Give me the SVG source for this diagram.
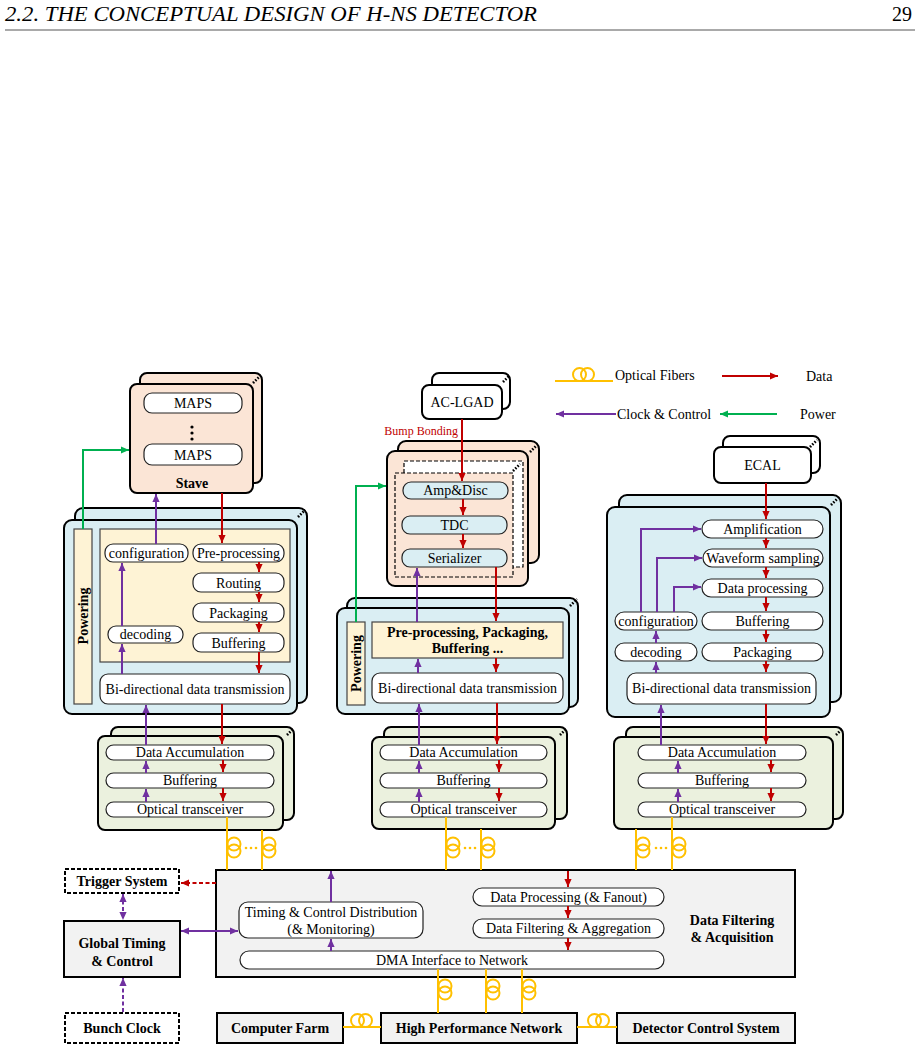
<svg xmlns="http://www.w3.org/2000/svg" width="920" height="1050" viewBox="0 0 920 1050">
<defs>
<style>
text { font-family: "Liberation Serif","Times New Roman",serif; font-size:14px; fill:#000; }
.c { text-anchor: middle; }
.b { font-weight: bold; }
.peach { fill:#FBE5D6; stroke:#000; stroke-width:2; }
.blue { fill:#DAEEF3; stroke:#000; stroke-width:2; }
.green { fill:#EBF1DE; stroke:#000; stroke-width:2; }
.wht { fill:#fff; stroke:#000; stroke-width:2; }
.gray { fill:#F2F2F2; stroke:#000; stroke-width:2; }
.pill { fill:#fff; stroke:#222; stroke-width:1.2; }
.pillb { fill:#DAEEF3; stroke:#222; stroke-width:1.2; }
.cream { fill:#FEF3D5; stroke:#444; stroke-width:1.2; }
.dash { fill:#fff; stroke:#000; stroke-width:2; stroke-dasharray:4 2; }
.dashin { stroke:#000; stroke-width:1.2; stroke-dasharray:4 2; }
.dots { stroke:#000; stroke-width:2.6; stroke-dasharray:1.6 1.6; fill:none; }
.r { stroke:#C00000; stroke-width:2; fill:none; marker-end:url(#ar); }
.rd { stroke:#C00000; stroke-width:2; fill:none; stroke-dasharray:4 2.5; marker-end:url(#ar); }
.p { stroke:#7030A0; stroke-width:2; fill:none; marker-end:url(#ap); }
.p2 { stroke:#7030A0; stroke-width:2; fill:none; marker-end:url(#ap); marker-start:url(#ap); }
.pd { stroke:#7030A0; stroke-width:2; fill:none; stroke-dasharray:4 2.5; marker-end:url(#ap); }
.pd2 { stroke:#7030A0; stroke-width:2; fill:none; stroke-dasharray:4 2.5; marker-end:url(#ap); marker-start:url(#ap); }
.g { stroke:#00B050; stroke-width:2; fill:none; marker-end:url(#ag); }
.y { stroke:#FFC000; stroke-width:2; fill:none; }
.yd { fill:#FFC000; }
.hdr { font-size:22px; font-style:italic; }
.pg { font-size:20px; text-anchor:end; }
.bump { font-size:12px; text-anchor:end; fill:#C00000; }
</style>
<marker id="ar" viewBox="0 0 10 10" refX="10" refY="5" markerWidth="8" markerHeight="8" markerUnits="userSpaceOnUse" orient="auto-start-reverse"><path d="M0,0.5 L10,5 L0,9.5 z" fill="#C00000"/></marker>
<marker id="ap" viewBox="0 0 10 10" refX="10" refY="5" markerWidth="8" markerHeight="8" markerUnits="userSpaceOnUse" orient="auto-start-reverse"><path d="M0,0.5 L10,5 L0,9.5 z" fill="#7030A0"/></marker>
<marker id="ag" viewBox="0 0 10 10" refX="10" refY="5" markerWidth="8" markerHeight="8" markerUnits="userSpaceOnUse" orient="auto-start-reverse"><path d="M0,0.5 L10,5 L0,9.5 z" fill="#00B050"/></marker>
<g id="coilV" class="y"><circle cx="7" cy="0" r="6.5"/><circle cx="7" cy="7" r="6.5"/></g>
<g id="coilH" class="y"><circle cx="0" cy="-6.5" r="6.5"/><circle cx="8" cy="-6.5" r="6.5"/></g>
</defs>

<g id="header">
<text class="hdr" x="5" y="21" textLength="532" lengthAdjust="spacingAndGlyphs">2.2.  THE CONCEPTUAL DESIGN OF H-NS DETECTOR</text>
<text class="pg" x="912" y="21">29</text>
<line x1="5" y1="30" x2="915" y2="30" stroke="#555" stroke-width="1"/>
</g>

<g id="legend">
<line class="y" x1="555" y1="381" x2="613" y2="381"/>
<use href="#coilH" x="579.5" y="381"/>
<text x="615" y="380">Optical Fibers</text>
<line class="r" x1="722" y1="376" x2="778" y2="376"/>
<text x="806" y="381">Data</text>
<line class="p" x1="616" y1="414" x2="556" y2="414"/>
<text x="617" y="419">Clock &amp; Control</text>
<line class="g" x1="777" y1="414" x2="720" y2="414"/>
<text x="800" y="419">Power</text>
</g>

<g id="stave">
<rect class="peach" x="140" y="373" width="122" height="110" rx="7"/>
<rect class="peach" x="130" y="384" width="123" height="109" rx="7"/>
<line class="dots" x1="253" y1="383" x2="260" y2="376"/>
<rect class="pill" x="144" y="393" width="98" height="20" rx="8"/>
<text class="c" x="193" y="408">MAPS</text>
<circle cx="192" cy="427" r="1.6"/><circle cx="192" cy="433" r="1.6"/><circle cx="192" cy="439" r="1.6"/>
<rect class="pill" x="144" y="444" width="98" height="21" rx="8"/>
<text class="c" x="193" y="460">MAPS</text>
<text class="c b" x="192" y="488">Stave</text>
</g>

<g id="left-board">
<rect class="blue" x="75" y="508" width="232" height="195" rx="8"/>
<rect class="blue" x="64" y="520" width="233" height="194" rx="8"/>
<line class="dots" x1="298" y1="517" x2="305" y2="510"/>
<rect class="cream" x="74" y="529" width="18" height="175"/>
<text class="c b" transform="translate(88,616) rotate(-90)">Powering</text>
<rect class="cream" x="100" y="529" width="190" height="133"/>
<rect class="pill" x="105" y="544" width="83" height="18" rx="8"/>
<text class="c" x="146.5" y="558">configuration</text>
<rect class="pill" x="193" y="544" width="91" height="18" rx="8"/>
<text class="c" x="238.5" y="558">Pre-processing</text>
<rect class="pill" x="193" y="573" width="91" height="19" rx="8"/>
<text class="c" x="238.5" y="588">Routing</text>
<rect class="pill" x="193" y="603" width="91" height="19" rx="8"/>
<text class="c" x="238.5" y="618">Packaging</text>
<rect class="pill" x="193" y="633" width="91" height="19" rx="8"/>
<text class="c" x="238.5" y="648">Buffering</text>
<rect class="pill" x="108" y="626" width="75" height="17" rx="8"/>
<text class="c" x="145.5" y="639">decoding</text>
<rect class="pill" x="100" y="674" width="190" height="30" rx="8"/>
<text class="c" x="195" y="694">Bi-directional data transmission</text>
</g>

<g id="left-daq">
<rect class="green" x="111" y="727" width="183" height="93" rx="7"/>
<rect class="green" x="98" y="736" width="185" height="94" rx="7"/>
<line class="dots" x1="287" y1="735" x2="293" y2="729"/>
<rect class="pill" x="106" y="745" width="168" height="15" rx="7.5"/>
<text class="c" x="190" y="757">Data Accumulation</text>
<rect class="pill" x="106" y="773" width="168" height="15" rx="7.5"/>
<text class="c" x="190" y="785">Buffering</text>
<rect class="pill" x="106" y="802" width="168" height="15" rx="7.5"/>
<text class="c" x="190" y="814">Optical transceiver</text>
</g>

<g id="ac-lgad">
<rect class="wht" x="432" y="373" width="78" height="36" rx="7"/>
<rect class="wht" x="422" y="385" width="80" height="34" rx="7"/>
<line class="dots" x1="503" y1="382" x2="509" y2="376"/>
<text class="c" x="462" y="407">AC-LGAD</text>
<text class="bump" x="458" y="435">Bump Bonding</text>
</g>

<g id="chip">
<rect class="peach" x="398" y="441" width="141" height="122" rx="8"/>
<rect class="peach" x="387" y="451" width="141" height="135" rx="8"/>
<line class="dots" x1="530" y1="452" x2="537" y2="445"/>
<rect class="dashin" x="404" y="461" width="119" height="106" fill="#fff"/>
<rect class="dashin" x="395" y="473" width="118" height="104" fill="#FBE5D6"/>
<line class="dots" x1="513" y1="471" x2="520" y2="464"/>
<rect class="pillb" x="403" y="482" width="105" height="17" rx="8"/>
<text class="c" x="455.5" y="495">Amp&amp;Disc</text>
<rect class="pillb" x="402" y="516" width="105" height="18" rx="8"/>
<text class="c" x="454.5" y="530">TDC</text>
<rect class="pillb" x="402" y="549" width="105" height="18" rx="8"/>
<text class="c" x="454.5" y="563">Serializer</text>
</g>

<g id="mid-board">
<rect class="blue" x="347" y="598" width="231" height="109" rx="8"/>
<rect class="blue" x="337" y="608" width="232" height="106" rx="8"/>
<line class="dots" x1="570" y1="606" x2="577" y2="599"/>
<rect class="cream" x="347" y="622" width="18" height="83"/>
<text class="c b" transform="translate(361,663.5) rotate(-90)">Powering</text>
<rect class="cream" x="372" y="622" width="191" height="36"/>
<text class="c b" x="467.5" y="637">Pre-processing, Packaging,</text>
<text class="c b" x="467.5" y="653">Buffering ...</text>
<rect class="pill" x="372" y="673" width="191" height="30" rx="8"/>
<text class="c" x="467.5" y="693">Bi-directional data transmission</text>
</g>

<g id="mid-daq">
<rect class="green" x="384" y="727" width="183" height="92" rx="7"/>
<rect class="green" x="372" y="737" width="183" height="92" rx="7"/>
<line class="dots" x1="560" y1="735" x2="566" y2="729"/>
<rect class="pill" x="380" y="745" width="167" height="15" rx="7.5"/>
<text class="c" x="463.5" y="757">Data Accumulation</text>
<rect class="pill" x="380" y="773" width="167" height="15" rx="7.5"/>
<text class="c" x="463.5" y="785">Buffering</text>
<rect class="pill" x="380" y="802" width="167" height="15" rx="7.5"/>
<text class="c" x="463.5" y="814">Optical transceiver</text>
</g>

<g id="ecal">
<rect class="wht" x="723" y="436" width="97" height="37" rx="7"/>
<rect class="wht" x="714" y="447" width="97" height="36" rx="7"/>
<line class="dots" x1="810" y1="447" x2="817" y2="440"/>
<text class="c" x="762.5" y="470">ECAL</text>
</g>

<g id="right-board">
<rect class="blue" x="619" y="495" width="222" height="207" rx="8"/>
<rect class="blue" x="607" y="507" width="223" height="210" rx="8"/>
<line class="dots" x1="831" y1="505" x2="838" y2="498"/>
<rect class="pill" x="702" y="520" width="121" height="18" rx="9"/>
<text class="c" x="762.5" y="534">Amplification</text>
<rect class="pill" x="703" y="549" width="120" height="18" rx="9"/>
<text class="c" x="763" y="563">Waveform sampling</text>
<rect class="pill" x="702" y="579" width="121" height="18" rx="9"/>
<text class="c" x="762.5" y="593">Data processing</text>
<rect class="pill" x="702" y="612" width="121" height="18" rx="9"/>
<text class="c" x="762.5" y="626">Buffering</text>
<rect class="pill" x="702" y="643" width="121" height="18" rx="9"/>
<text class="c" x="762.5" y="657">Packaging</text>
<rect class="pill" x="615" y="612" width="82" height="18" rx="9"/>
<text class="c" x="656" y="626">configuration</text>
<rect class="pill" x="615" y="643" width="82" height="18" rx="9"/>
<text class="c" x="656" y="657">decoding</text>
<rect class="pill" x="627" y="673" width="189" height="31" rx="9"/>
<text class="c" x="721.5" y="693">Bi-directional data transmission</text>
</g>

<g id="right-daq">
<rect class="green" x="626" y="727" width="217" height="92" rx="7"/>
<rect class="green" x="614" y="737" width="219" height="92" rx="7"/>
<line class="dots" x1="836" y1="735" x2="842" y2="729"/>
<rect class="pill" x="638" y="745" width="168" height="15" rx="7.5"/>
<text class="c" x="722" y="757">Data Accumulation</text>
<rect class="pill" x="638" y="773" width="168" height="15" rx="7.5"/>
<text class="c" x="722" y="785">Buffering</text>
<rect class="pill" x="638" y="802" width="168" height="15" rx="7.5"/>
<text class="c" x="722" y="814">Optical transceiver</text>
</g>

<g id="trigger-system">
<rect class="dash" x="65" y="869" width="114" height="24"/>
<text class="c b" x="122" y="886">Trigger System</text>
</g>
<g id="global-timing">
<rect class="gray" x="64" y="921" width="116" height="56"/>
<text class="c b" x="122" y="948">Global Timing</text>
<text class="c b" x="122" y="966">&amp; Control</text>
</g>
<g id="bunch-clock">
<rect class="dash" x="65" y="1013" width="114" height="30"/>
<text class="c b" x="122" y="1033">Bunch Clock</text>
</g>

<g id="dfa">
<rect class="gray" x="216" y="870" width="579" height="107"/>
<rect class="pill" x="239" y="902" width="184" height="36" rx="9"/>
<text class="c" x="331" y="917">Timing &amp; Control Distribution</text>
<text class="c" x="331" y="934">(&amp; Monitoring)</text>
<rect class="pill" x="473" y="888" width="191" height="18" rx="9"/>
<text class="c" x="568.5" y="902">Data Processing (&amp; Fanout)</text>
<rect class="pill" x="473" y="919" width="191" height="19" rx="9"/>
<text class="c" x="568.5" y="933">Data Filtering &amp; Aggregation</text>
<rect class="pill" x="240" y="951" width="424" height="18" rx="9"/>
<text class="c" x="452" y="965">DMA Interface to Network</text>
<text class="c b" x="732" y="925">Data Filtering</text>
<text class="c b" x="732" y="942">&amp; Acquisition</text>
</g>

<g id="computer-farm">
<rect class="gray" x="217" y="1013" width="126" height="30"/>
<text class="c b" x="280" y="1033">Computer Farm</text>
</g>
<g id="hpn">
<rect class="gray" x="381" y="1013" width="196" height="30"/>
<text class="c b" x="479" y="1033">High Performance Network</text>
</g>
<g id="dcs">
<rect class="gray" x="617" y="1013" width="178" height="30"/>
<text class="c b" x="706" y="1033">Detector Control System</text>
</g>

<g id="connectors">
<polyline class="g" points="83,529 83,450 129,450"/>
<line class="p" x1="156" y1="544" x2="156" y2="494"/>
<line class="r" x1="222" y1="493" x2="222" y2="543"/>
<line class="r" x1="259" y1="562" x2="259" y2="572"/>
<line class="r" x1="259" y1="592" x2="259" y2="602"/>
<line class="r" x1="259" y1="622" x2="259" y2="632"/>
<line class="r" x1="259" y1="652" x2="259" y2="673"/>
<line class="p" x1="122" y1="674" x2="122" y2="644"/>
<line class="p" x1="122" y1="626" x2="122" y2="563"/>
<line class="p" x1="146" y1="745" x2="146" y2="705"/>
<line class="r" x1="222" y1="704" x2="222" y2="744"/>
<line class="p" x1="146" y1="773" x2="146" y2="761"/>
<line class="p" x1="146" y1="802" x2="146" y2="789"/>
<line class="r" x1="223" y1="760" x2="223" y2="772"/>
<line class="r" x1="223" y1="788" x2="223" y2="801"/>
<line class="r" x1="462" y1="419" x2="462" y2="481"/>
<line class="r" x1="463" y1="499" x2="463" y2="515"/>
<line class="r" x1="463" y1="534" x2="463" y2="548"/>
<polyline class="g" points="356,622 356,486 386,486"/>
<line class="p" x1="417" y1="622" x2="417" y2="568"/>
<line class="r" x1="496" y1="567" x2="496" y2="621"/>
<line class="p" x1="418" y1="673" x2="418" y2="659"/>
<line class="r" x1="496" y1="658" x2="496" y2="672"/>
<line class="p" x1="419" y1="745" x2="419" y2="704"/>
<line class="r" x1="497" y1="703" x2="497" y2="744"/>
<line class="p" x1="419" y1="773" x2="419" y2="761"/>
<line class="p" x1="419" y1="802" x2="419" y2="789"/>
<line class="r" x1="499" y1="760" x2="499" y2="772"/>
<line class="r" x1="499" y1="788" x2="499" y2="801"/>
<line class="r" x1="766" y1="483" x2="766" y2="519"/>
<line class="r" x1="766" y1="538" x2="766" y2="548"/>
<line class="r" x1="766" y1="567" x2="766" y2="578"/>
<line class="r" x1="766" y1="597" x2="766" y2="611"/>
<line class="r" x1="766" y1="630" x2="766" y2="642"/>
<line class="r" x1="766" y1="661" x2="766" y2="672"/>
<polyline class="p" points="641,612 641,529 701,529"/>
<polyline class="p" points="657,612 657,558 702,558"/>
<polyline class="p" points="674,612 674,587 701,587"/>
<line class="p" x1="656" y1="643" x2="656" y2="631"/>
<line class="p" x1="656" y1="673" x2="656" y2="662"/>
<line class="p" x1="661" y1="745" x2="661" y2="705"/>
<line class="r" x1="766" y1="704" x2="766" y2="744"/>
<line class="p" x1="678" y1="773" x2="678" y2="761"/>
<line class="p" x1="678" y1="802" x2="678" y2="789"/>
<line class="r" x1="771" y1="760" x2="771" y2="772"/>
<line class="r" x1="771" y1="788" x2="771" y2="801"/>
<line class="y" x1="227" y1="817" x2="227" y2="870"/>
<line class="y" x1="262" y1="830" x2="262" y2="870"/>
<use href="#coilV" x="227" y="844"/><use href="#coilV" x="262" y="844"/>
<circle class="yd" cx="246" cy="848" r="1.3"/><circle class="yd" cx="251" cy="848" r="1.3"/><circle class="yd" cx="256" cy="848" r="1.3"/>
<line class="y" x1="446" y1="817" x2="446" y2="870"/>
<line class="y" x1="481" y1="829" x2="481" y2="870"/>
<use href="#coilV" x="446" y="844"/><use href="#coilV" x="481" y="844"/>
<circle class="yd" cx="465" cy="848" r="1.3"/><circle class="yd" cx="470" cy="848" r="1.3"/><circle class="yd" cx="475" cy="848" r="1.3"/>
<line class="y" x1="636" y1="829" x2="636" y2="870"/>
<line class="y" x1="672" y1="817" x2="672" y2="870"/>
<use href="#coilV" x="636" y="844"/><use href="#coilV" x="672" y="844"/>
<circle class="yd" cx="656" cy="848" r="1.3"/><circle class="yd" cx="661" cy="848" r="1.3"/><circle class="yd" cx="666" cy="848" r="1.3"/>
<line class="rd" x1="216" y1="883" x2="181" y2="883"/>
<line class="pd2" x1="123" y1="894" x2="123" y2="920"/>
<line class="pd" x1="123" y1="1012" x2="123" y2="978"/>
<line class="p2" x1="181" y1="931" x2="238" y2="931"/>
<line class="p" x1="331" y1="902" x2="331" y2="871"/>
<line class="p" x1="331" y1="951" x2="331" y2="939"/>
<line class="r" x1="568" y1="871" x2="568" y2="887"/>
<line class="r" x1="568" y1="906" x2="568" y2="918"/>
<line class="r" x1="568" y1="938" x2="568" y2="950"/>
<line class="y" x1="438" y1="969" x2="438" y2="1013"/>
<line class="y" x1="486" y1="969" x2="486" y2="1013"/>
<line class="y" x1="522" y1="969" x2="522" y2="1013"/>
<use href="#coilV" x="438" y="986"/><use href="#coilV" x="486" y="986"/><use href="#coilV" x="522" y="986"/>
<line class="y" x1="343" y1="1027" x2="381" y2="1027"/>
<use href="#coilH" x="357.5" y="1027"/>
<line class="y" x1="577" y1="1027" x2="617" y2="1027"/>
<use href="#coilH" x="594.5" y="1027"/>
</g>
</svg>
